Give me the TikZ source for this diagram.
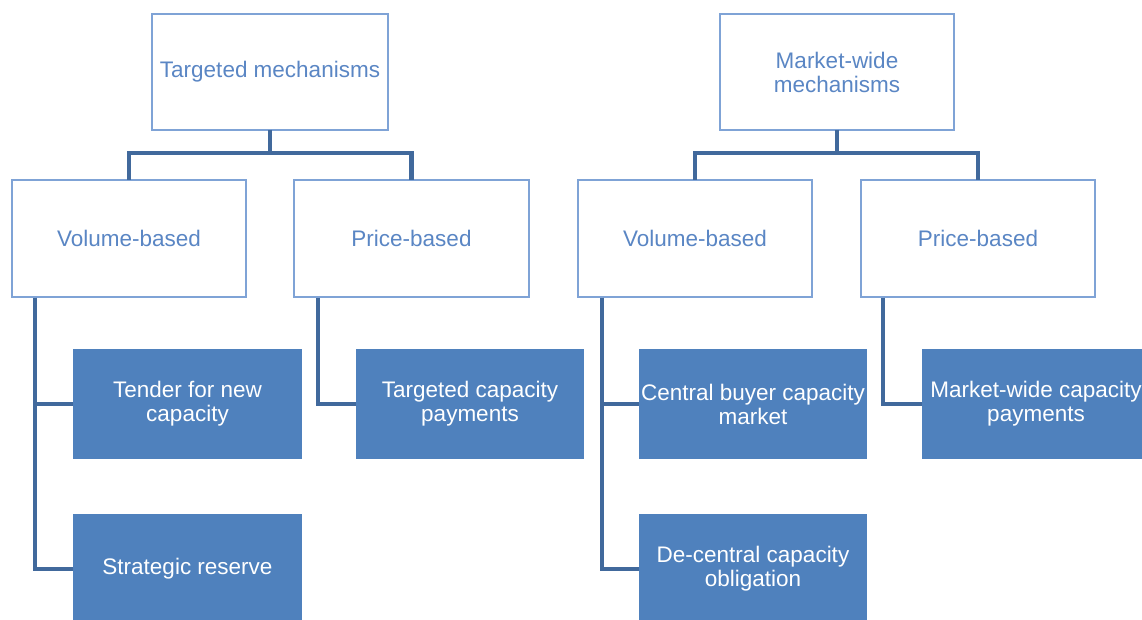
\documentclass[tikz,border=0pt]{standalone}
\usepackage{fontspec}
\setmainfont{Liberation Sans}
\usetikzlibrary{calc}
\definecolor{outl}{HTML}{7FA3D6}
\definecolor{outtxt}{HTML}{5A86C4}
\definecolor{fillb}{HTML}{4F81BD}
\definecolor{connc}{HTML}{41699C}
\tikzset{
  basebox/.style={inner sep=0pt, outer sep=0pt, align=center,
    font=\fontsize{22.5}{24}\selectfont},
  outbox/.style={basebox, draw=outl, line width=2pt, fill=white, text=outtxt,
    minimum width=234pt, minimum height=116pt},
  fillbox/.style={basebox, fill=fillb, text=white,
    minimum width=229pt, minimum height=110pt},
  conntop/.style={draw=connc, line width=4.5pt},
  connsub/.style={draw=connc, line width=3.5pt}
}
\begin{document}
\begin{tikzpicture}[x=1pt,y=-1pt]
\fill[white] (0,0) rectangle (1142,620);
\useasboundingbox (0,0) rectangle (1142,620);
\clip (0,0) rectangle (1142,620);

% connectors first (under boxes)
\coordinate (tmc) at (270,131);
\coordinate (mwc0) at (837,131);

% top-level boxes
\node[outbox, minimum width=236pt] (tm) at (270,72) {Targeted mechanisms};
\node[outbox] (mw) at (837,72) {Market-wide\\mechanisms};

% second level
\node[outbox] (vl) at (129,238.5) {Volume-based};
\node[outbox, minimum width=235pt] (pl) at (411.5,238.5) {Price-based};
\node[outbox] (vr) at (695,238.5) {Volume-based};
\node[outbox] (pr) at (978,238.5) {Price-based};

% third level
\node[fillbox] (tender) at (187.5,404) {Tender for new\\capacity};
\node[fillbox] (strat) at (187.5,569) {Strategic reserve};
\node[fillbox, minimum width=228pt] (tcp) at (470,404) {Targeted capacity\\payments};
\node[fillbox, minimum width=228pt] (cbc) at (753,404) {Central buyer capacity\\market};
\node[fillbox, minimum width=228pt] (dco) at (753,569) {De-central capacity\\obligation};
\node[fillbox, minimum width=228pt] (mwcp) at (1036,404) {Market-wide capacity\\payments};

% top connectors
\draw[conntop] (tm.south) -- ++(0,23) -| (vl.north);
\draw[conntop] (tm.south) -- ++(0,23) -| (pl.north);
\draw[conntop] (mw.south) -- ++(0,23) -| (vr.north);
\draw[conntop] (mw.south) -- ++(0,23) -| (pr.north);

% sub connectors
\draw[connsub] ($(vl.south west)+(23,1)$) |- (tender.west);
\draw[connsub] ($(vl.south west)+(23,1)$) |- (strat.west);
\draw[connsub] ($(pl.south west)+(24,1)$) |- (tcp.west);
\draw[connsub] ($(vr.south west)+(24,1)$) |- (cbc.west);
\draw[connsub] ($(vr.south west)+(24,1)$) |- (dco.west);
\draw[connsub] ($(pr.south west)+(22,1)$) |- (mwcp.west);
\end{tikzpicture}
\end{document}
